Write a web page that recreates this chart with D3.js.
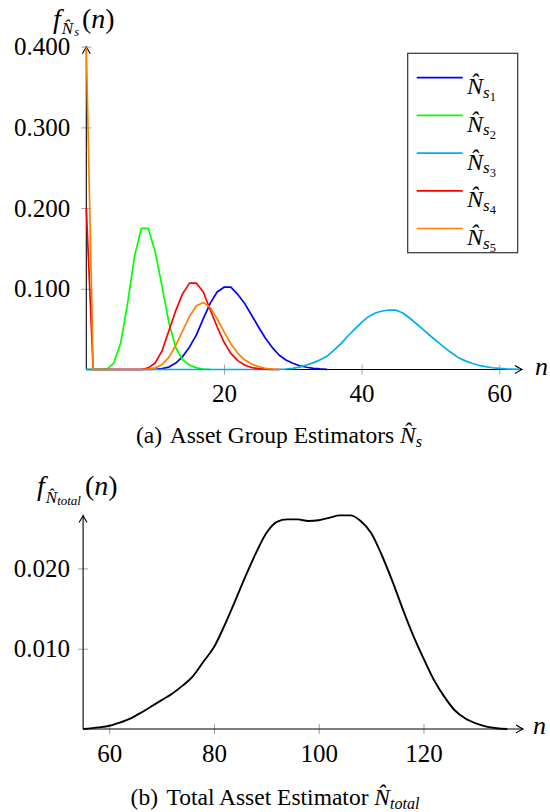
<!DOCTYPE html>
<html>
<head>
<meta charset="utf-8">
<script src="https://cdn.jsdelivr.net/npm/d3@7"></script>
<style>
  body { margin: 0; background: #fff; }
</style>
</head>
<body>
<script>
const W = 550;
const H = 812;
const FONT = "'Liberation Serif', 'Times New Roman', Tinos, 'Nimbus Roman', 'Noto Serif', 'DejaVu Serif', serif";

// (a) asset group estimators, pmf at n = 0, 1, 2, ...
const nGroup = [0,1,2,3,4,5,6,7,8,9,10,11,12,13,14,15,16,17,18,19,20,21,22,23,24,25,26,27,28,29,30,31,
  32,33,34,35,36,37,38,39,40,41,42,43,44,45,46,47,48,49,50,51,52,53,54,55,56,57,58,59,60,61,62,63];
const fS1 = [0,0,0,0,0,0,0,0,0,0,0.0003,0.001,0.003,0.008,0.016,0.028,0.043,0.063,0.082,0.096,0.102,0.102,
  0.093,0.082,0.0675,0.053,0.039,0.0275,0.018,0.0118,0.0077,0.0047,0.0028,0.0015,0.0007,0.0002];
const fS2 = [0,0,0,0.0005,0.008,0.033,0.082,0.140,0.175,0.175,0.146,0.103,0.058,0.027,0.012,0.0056,0.002,0.0006,0.0001];
const fS3 = [0,0,0,0,0,0,0,0,0,0,0,0,0,0,0,0,0,0,0,0,0,0,0,0,0,0,0,0,0.0002,0.0006,0.0015,0.003,
  0.0056,0.0085,0.012,0.0167,0.024,0.032,0.0415,0.050,0.0585,0.0655,0.070,0.0725,0.0737,0.0735,0.070,0.0635,
  0.0564,0.049,0.0415,0.0345,0.0275,0.021,0.015,0.011,0.0077,0.0052,0.0035,0.0022,0.0013,0.0007,0.0004,0.0002];
const fS4 = [0.2,0,0,0,0,0,0,0,0,0.002,0.008,0.023,0.048,0.073,0.094,0.107,0.107,0.096,0.074,0.053,0.034,
  0.020,0.011,0.0056,0.0025,0.001,0.0004,0.0001,0];
const fS5 = [0.4,0,0,0,0,0,0,0,0,0.0005,0.002,0.006,0.015,0.03,0.048,0.066,0.079,0.083,0.077,0.063,0.047,
  0.032,0.020,0.012,0.0068,0.0035,0.0015,0.0006,0.0002];
const groupSeries = [fS1, fS2, fS3, fS4, fS5];
const groupIndex = ["1", "2", "3", "4", "5"];
const groupColors = ["#0000ff", "#00ff00", "#00aeef", "#ff0000", "#ff8000"];

// (b) total asset estimator
const nTotal = [55,58,60,62,64,66,68,70,72,74,76,78,80,82,84,86,88,90,92,94,96,98,100,
  102,104,106,108,110,112,114,116,118,120,122,124,126,128,130,132,134,136];
const fTotal = [0,0.0002,0.0004,0.0008,0.0013,0.002,0.0028,0.0036,0.0044,0.0054,0.0066,0.0084,0.0102,
  0.0129,0.0159,0.019,0.0219,0.0244,0.0258,0.0261,0.0261,0.0259,0.026,0.0263,0.0266,0.0266,0.0259,
  0.0244,0.0217,0.0185,0.015,0.0117,0.0088,0.0061,0.004,0.0023,0.0013,0.0007,0.0003,0.0001,0];

const topXTicks = [20, 40, 60];
const topYTicks = [0.1, 0.2, 0.3, 0.4];
const botXTicks = [60, 80, 100, 120];
const botYTicks = [0.01, 0.02];

const svg = d3.select("body").append("svg").attr("width", W).attr("height", H)
  .style("font-family", FONT);

// scales
const x1 = d3.scaleLinear().domain([0, 63.3]).range([86.3, 522]);
const y1 = d3.scaleLinear().domain([0, 0.4]).range([369.5, 46.7]);
const x2 = d3.scaleLinear().domain([55, 139]).range([83.1, 523]);
const y2 = d3.scaleLinear().domain([0, 0.0266]).range([729, 515.4]);

// text with sub/superscripts; a combining circumflex gives the hat
function mathText(parent, x, y, parts, anchor) {
  const t = parent.append("text").attr("x", x).attr("y", y)
    .attr("text-anchor", anchor || "start")
    .style("font-family", FONT).style("white-space", "pre").attr("fill", "#000");
  let cur = 0;
  parts.forEach(p => {
    const off = p.off || 0;
    t.append("tspan")
      .attr("dy", off - cur)
      .attr("dx", p.dx || 0)
      .attr("font-size", p.fs)
      .attr("font-style", p.it ? "italic" : "normal")
      .text(p.hat ? p.t + "\u0302" : p.t);
    cur = off;
  });
  return t;
}

function arrowRight(x, y) {
  svg.append("path")
    .attr("d", `M${x - 7},${y - 4} Q${x - 2},${y - 1} ${x},${y} Q${x - 2},${y + 1} ${x - 7},${y + 4}`)
    .attr("fill", "none").attr("stroke", "#000").attr("stroke-width", 1.1);
}
function arrowUp(x, y) {
  svg.append("path")
    .attr("d", `M${x - 4},${y + 7} Q${x - 1},${y + 2} ${x},${y} Q${x + 1},${y + 2} ${x + 4},${y + 7}`)
    .attr("fill", "none").attr("stroke", "#000").attr("stroke-width", 1.1);
}

function drawAxes(x, y, xTicks, yTicks, yFmt, yPad) {
  const x0 = x.range()[0], xEnd = x.range()[1];
  const y0 = y.range()[0], yEnd = y.range()[1];

  const gx = svg.append("g").attr("transform", `translate(0,${y0})`)
    .call(d3.axisBottom(x).tickValues(xTicks).tickSize(5).tickPadding(10).tickFormat(d3.format("d")));
  gx.select(".domain").remove();
  gx.selectAll(".tick line").attr("y1", -5).attr("stroke", "#a0a0a0");
  gx.selectAll(".tick text").attr("font-size", 25).style("font-family", FONT);

  const gy = svg.append("g").attr("transform", `translate(${x0},0)`)
    .call(d3.axisLeft(y).tickValues(yTicks).tickSize(5).tickPadding(yPad).tickFormat(d3.format(yFmt)));
  gy.select(".domain").remove();
  gy.selectAll(".tick line").attr("x1", 5).attr("stroke", "#a0a0a0");
  gy.selectAll(".tick text").attr("font-size", 25).style("font-family", FONT);

  svg.append("line").attr("x1", x0).attr("x2", xEnd).attr("y1", y0).attr("y2", y0)
    .attr("stroke", "#000").attr("stroke-width", 1.1);
  svg.append("line").attr("x1", x0).attr("x2", x0).attr("y1", y0).attr("y2", yEnd)
    .attr("stroke", "#000").attr("stroke-width", 1.1);
  arrowRight(xEnd, y0);
  arrowUp(x0, yEnd);
}

// ---- (a) ----
drawAxes(x1, y1, topXTicks, topYTicks, ".3f", 11);

const lineTop = d3.line().x((d, i) => x1(nGroup[i])).y(d => y1(d));
groupSeries.forEach((s, k) => {
  svg.append("path")
    .attr("d", lineTop(s))
    .attr("fill", "none")
    .attr("stroke", groupColors[k])
    .attr("stroke-width", 1.7)
    .attr("stroke-linejoin", "round");
});

mathText(svg, 53, 28, [
  { t: "f", fs: 28, it: true },
  { t: "N", fs: 17, it: true, off: 5.5, hat: true, dx: 1 },
  { t: "s", fs: 12.5, it: true, off: 8, dx: 1 },
  { t: "(", fs: 28, off: 0, dx: 3 },
  { t: "n", fs: 28, it: true },
  { t: ")", fs: 28 }
]);
mathText(svg, 535, 375, [{ t: "n", fs: 26, it: true }]);

// legend
const legend = svg.append("g");
legend.append("rect").attr("x", 407.7).attr("y", 53.3).attr("width", 110).attr("height", 199.4)
  .attr("fill", "#fff").attr("stroke", "#333").attr("stroke-width", 1.2);
groupIndex.forEach((d, i) => {
  const ly = 77.7 + 37.7 * i;
  legend.append("line").attr("x1", 416.7).attr("x2", 462.7).attr("y1", ly).attr("y2", ly)
    .attr("stroke", groupColors[i]).attr("stroke-width", 1.7);
  mathText(legend, 467, ly + 16.5, [
    { t: "N", fs: 24, it: true, hat: true },
    { t: "s", fs: 17, it: true, off: 3.5 },
    { t: d, fs: 12.5, off: 7 }
  ]);
});

mathText(svg, 279, 443, [
  { t: "(a) ", fs: 23.5 },
  { t: "Asset Group Estimators ", fs: 23.5, dx: 3 },
  { t: "N", fs: 23.5, it: true, hat: true },
  { t: "s", fs: 16, it: true, off: 3.5 }
], "middle");

// ---- (b) ----
drawAxes(x2, y2, botXTicks, botYTicks, ".3f", 8);

const lineBot = d3.line().x((d, i) => x2(nTotal[i])).y(d => y2(d)).curve(d3.curveMonotoneX);
svg.append("path")
  .attr("d", lineBot(fTotal))
  .attr("fill", "none")
  .attr("stroke", "#000")
  .attr("stroke-width", 1.9);

mathText(svg, 37, 495, [
  { t: "f", fs: 28, it: true },
  { t: "N", fs: 17, it: true, off: 7.5, hat: true, dx: 1 },
  { t: "total", fs: 13, it: true, off: 10 },
  { t: "(", fs: 28, off: 0, dx: 4 },
  { t: "n", fs: 28, it: true },
  { t: ")", fs: 28 }
]);
mathText(svg, 533, 733.5, [{ t: "n", fs: 26, it: true }]);

mathText(svg, 275, 805, [
  { t: "(b) ", fs: 23.5 },
  { t: "Total Asset Estimator ", fs: 23.5, dx: 3 },
  { t: "N", fs: 23.5, it: true, hat: true },
  { t: "total", fs: 16, it: true, off: 3.5 }
], "middle");
</script>
</body>
</html>
